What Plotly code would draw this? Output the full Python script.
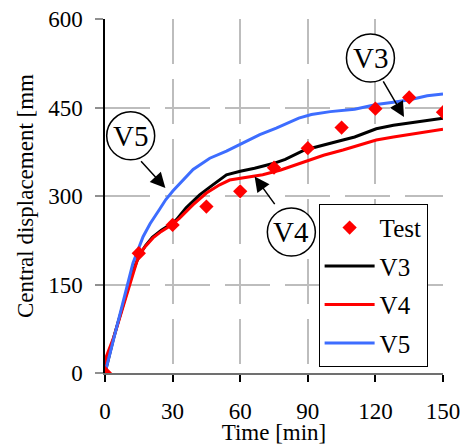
import plotly.graph_objects as go

# ---- data ----
test_t = [0, 15, 30, 45, 60, 75, 90, 105, 120, 135, 150]
test_d = [0, 203, 251, 282, 308, 348, 381, 416, 448, 467, 442]

v3_t = [0, 2, 4, 8, 12.4, 15, 18, 21, 25, 29.5, 31.7, 36, 42, 46.5, 50.9, 53.9, 60, 66.4, 74.6, 80, 88.6, 97, 105.6, 110.8, 120.4, 128, 135.2, 142, 150]
v3_d = [0, 32, 62, 115, 172, 198, 216, 230, 242, 253, 260, 280, 302, 315, 328, 336, 342, 347, 355, 362, 378, 387, 395, 400, 414, 420, 424, 428, 432]

v4_t = [0, 0.6, 4, 8, 12.4, 15, 18, 21.3, 25, 29.5, 33, 39, 45, 50.9, 55.3, 60, 66.4, 70, 78, 88.6, 97, 105.6, 110.8, 120.4, 128, 135.2, 142, 150]
v4_d = [0, 28, 62, 113, 170, 200, 215, 229, 240, 251, 262, 285, 305, 319, 327, 330, 334, 336, 344, 358, 369, 378, 384, 395, 400, 404, 409, 413]

v5_t = [0, 2, 4.3, 8.7, 12.4, 16.9, 20, 24.3, 27, 30.2, 34.6, 39.1, 46.5, 53.9, 61.3, 68.7, 76, 81.2, 86, 91.6, 100, 110.8, 120.4, 128, 135.2, 143, 150]
v5_d = [0, 30, 62, 130, 186, 231, 253, 278, 294, 309, 327, 345, 364, 376, 390, 404, 415, 424, 432, 438, 443, 447, 455, 459, 463, 470, 473]

x_ticks = [0, 30, 60, 90, 120, 150]
y_ticks = [0, 150, 300, 450, 600]

FONT = "Liberation Serif"
BLUE = "#3d6dff"

fig = go.Figure()
fig.add_trace(go.Scatter(x=v3_t, y=v3_d, mode="lines", name="V3", legendgroup="v3",
                         line=dict(color="black", width=3), legendrank=2))
fig.add_trace(go.Scatter(x=v4_t, y=v4_d, mode="lines", name="V4", legendgroup="v4",
                         line=dict(color="#ff0000", width=3), legendrank=3))
fig.add_trace(go.Scatter(x=v5_t, y=v5_d, mode="lines", name="V5", legendgroup="v5",
                         line=dict(color=BLUE, width=3), legendrank=4))
fig.add_trace(go.Scatter(x=test_t, y=test_d, mode="markers", name="Test", legendgroup="test",
                         marker=dict(symbol="diamond", color="#ff0000", size=11),
                         legendrank=1))

# circled labels with arrows
labels = [
    dict(text="V5", cx=11.4, cy=402, tail=(15.4, 361.5), tip=(26.8, 313.6)),
    dict(text="V3", cx=117.8, cy=534, tail=(123.1, 497), tip=(132.7, 434)),
    dict(text="V4", cx=82.7, cy=239, tail=(75.8, 283.6), tip=(66.4, 333.2)),
]
for lb in labels:
    fig.add_annotation(x=lb["tip"][0], y=lb["tip"][1], ax=lb["tail"][0], ay=lb["tail"][1],
                       xref="x", yref="y", axref="x", ayref="y", text="",
                       showarrow=True, arrowhead=2, arrowsize=2.0, arrowwidth=1.5,
                       arrowcolor="black")
    fig.add_shape(type="circle", xref="x", yref="y", xsizemode="pixel", ysizemode="pixel",
                  xanchor=lb["cx"], yanchor=lb["cy"], x0=-24, x1=24, y0=-24, y1=24,
                  line=dict(color="black", width=1.5), fillcolor="white", layer="above")
    fig.add_annotation(x=lb["cx"], y=lb["cy"], xref="x", yref="y", text=lb["text"],
                       showarrow=False, font=dict(family=FONT, size=29, color="black"))

fig.update_layout(
    width=461, height=445,
    margin=dict(l=105, r=18, t=19, b=72, autoexpand=False),
    paper_bgcolor="white", plot_bgcolor="white",
    font=dict(family=FONT, size=23, color="black"),
    showlegend=True,
    legend=dict(x=0.632, y=0.478, xanchor="left", yanchor="top",
                bgcolor="white", bordercolor="black", borderwidth=1,
                font=dict(family=FONT, size=25, color="black"),
                traceorder="grouped", tracegroupgap=3, itemwidth=50),
)
fig.update_xaxes(range=[0, 150], tickvals=x_ticks, ticks="outside", ticklen=7,
                 tickcolor="black", tickwidth=1.5, automargin=False,
                 tickfont=dict(family=FONT, size=23, color="black"),
                 showline=True, linecolor="#707070", linewidth=2,
                 showgrid=True, gridcolor="#bdbdbd", gridwidth=1.5, griddash="45px,15px",
                 zeroline=False, ticklabelstandoff=9,
                 title=dict(text="Time [min]", standoff=0,
                            font=dict(family=FONT, size=23, color="black")))
fig.update_yaxes(range=[0, 600], tickvals=y_ticks, ticks="outside", ticklen=8,
                 tickcolor="#909090", tickwidth=1.5, automargin=False,
                 tickfont=dict(family=FONT, size=23, color="black"),
                 showline=True, linecolor="black", linewidth=1.5,
                 showgrid=True, gridcolor="#bdbdbd", gridwidth=1.5, griddash="45px,15px",
                 zeroline=False, ticklabelstandoff=8,
                 title=dict(text="Central displacement [mm", standoff=8,
                            font=dict(family=FONT, size=23, color="black")))

fig.write_html("out.html")
